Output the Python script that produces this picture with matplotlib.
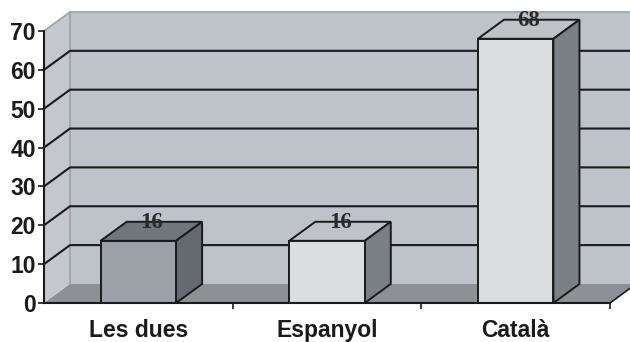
import matplotlib
matplotlib.use("Agg")
import matplotlib.pyplot as plt
from matplotlib.patches import Polygon

categories = ["Les dues", "Espanyol", "Català"]
values = [16, 16, 68]
yticks = [0, 10, 20, 30, 40, 50, 60, 70]

front_colors = ["#9ca1a7", "#dcdde1", "#dcdde1"]
top_colors = ["#71767b", "#bfc2c7", "#bfc2c7"]
side_colors = ["#646a6d", "#7b8086", "#7b8086"]

WALL = "#bec2c9"
SIDE_WALL = "#c4c7cd"
FLOOR = "#8d9196"
EDGE = "#1a1a1a"

# oblique depth offset, in data units
DX, DY = 0.138, 4.9
BAR_W = 0.4
YMAX = 70

fig = plt.figure(figsize=(6.3, 3.42), dpi=100)
ax = fig.add_axes([44 / 630, 39 / 342, 566 / 630, 272 / 342])
ax.set_xlim(-0.5, len(categories) - 0.5)
ax.set_ylim(0, YMAX)
ax.patch.set_alpha(0)

x0, x1 = -0.5, len(categories) - 0.5

def poly(pts, fc, ec="none", lw=0, z=1):
    p = Polygon(pts, closed=True, facecolor=fc, edgecolor=ec, linewidth=lw,
                zorder=z, clip_on=False, joinstyle="miter")
    ax.add_patch(p)

# back wall, side wall and floor
poly([(x0 + DX, DY), (x1 + DX + 0.2, DY), (x1 + DX + 0.2, YMAX + DY), (x0 + DX, YMAX + DY)], WALL, z=0.5)
poly([(x0, 0), (x0 + DX, DY), (x0 + DX, YMAX + DY), (x0, YMAX)], SIDE_WALL, z=0.6)
poly([(x0, 0), (x1, 0), (x1 + DX, DY), (x0 + DX, DY)], FLOOR, z=0.7)

# wall borders
ax.plot([x0 + DX, x0 + DX], [DY, YMAX + DY], color="#9ea2a8", lw=1.2, zorder=0.8, clip_on=False)
ax.plot([x0, x0 + DX, x1 + DX + 0.2], [YMAX, YMAX + DY, YMAX + DY], color="#9ea2a8", lw=1.2,
        zorder=0.8, clip_on=False)
ax.plot([x1, x1 + DX], [0, DY], color=EDGE, lw=1.2, zorder=0.8, clip_on=False)

# gridlines on back and side walls
for v in yticks[1:-1]:
    ax.plot([x0, x0 + DX, x1 + DX + 0.2], [v, v + DY, v + DY], color=EDGE, lw=1.5,
            zorder=0.9, clip_on=False)

# bars: front face, top and right side
for i, (v, fc, tc, sc) in enumerate(zip(values, front_colors, top_colors, side_colors)):
    ax.bar(i, v, width=BAR_W, color=fc, edgecolor=EDGE, linewidth=1.4, zorder=3)
    l, r = i - BAR_W / 2, i + BAR_W / 2
    poly([(l, v), (r, v), (r + DX, v + DY), (l + DX, v + DY)], tc, EDGE, 1.4, z=2.9)
    poly([(r, 0), (r + DX, DY), (r + DX, v + DY), (r, v)], sc, EDGE, 1.4, z=2.9)
    ax.text(i + DX / 2, v + DY - 0.2, str(v), ha="center", va="center",
            fontsize=16.5, fontweight="bold", family="Liberation Serif",
            color="#2a2a2a", zorder=4, clip_on=False)

# axes
for s in ("top", "right"):
    ax.spines[s].set_visible(False)
for s in ("left", "bottom"):
    ax.spines[s].set_color(EDGE)
    ax.spines[s].set_linewidth(1.5)
    ax.spines[s].set_zorder(5)

ax.set_yticks(yticks)
ax.set_yticklabels([str(t) for t in yticks])
ax.tick_params(axis="y", length=4, width=1.2, color=EDGE, pad=2)
ax.set_xticks(range(len(categories)))
ax.set_xticklabels(categories)
ax.tick_params(axis="x", length=0, pad=11.5)
ax.set_xticks([0.5, 1.5, 2.5], minor=True)
ax.tick_params(axis="x", which="minor", length=4, width=1.2, color=EDGE)

for lab in ax.get_yticklabels() + ax.get_xticklabels():
    lab.set_fontfamily("Liberation Sans")
    lab.set_fontweight("bold")
    lab.set_fontsize(16.5)
    lab.set_color("#1a1a1a")

fig.savefig("out.png", dpi=100)
